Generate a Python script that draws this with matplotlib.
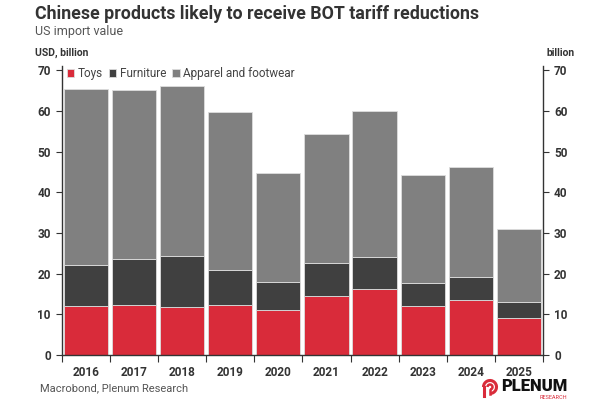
import numpy as np
import matplotlib.pyplot as plt
from matplotlib.patches import Arc
from matplotlib.lines import Line2D

plt.rcParams['font.family'] = ['Roboto', 'DejaVu Sans']

# data (USD billion)
years = ['2016', '2017', '2018', '2019', '2020', '2021', '2022', '2023', '2024', '2025']
toys = [12.0, 12.2, 11.9, 12.2, 11.0, 14.5, 16.2, 12.1, 13.5, 9.1]
furniture = [10.2, 11.3, 12.5, 8.8, 6.9, 8.1, 7.9, 5.7, 5.7, 4.0]
apparel = [43.1, 41.6, 41.7, 38.6, 26.9, 31.7, 35.9, 26.4, 27.1, 17.8]

RED = '#d92b3a'
DARK = '#404040'
GRAY = '#808080'
TXT = '#333333'

W, H = 600, 403
fig = plt.figure(figsize=(W / 100, H / 100), dpi=100)
ax = fig.add_axes([0.103, 0.119, 0.802, 0.717])

x = np.arange(len(years))
w = 0.92
edge = dict(edgecolor='#dddddd', linewidth=0.6)
ax.bar(x, toys, w, color=RED, label='Toys', **edge)
ax.bar(x, furniture, w, bottom=toys, color=DARK, label='Furniture', **edge)
bottom2 = np.array(toys) + np.array(furniture)
ax.bar(x, apparel, w, bottom=bottom2, color=GRAY, label='Apparel and footwear', **edge)

ax.set_xlim(-0.5, len(years) - 0.5)
ax.set_ylim(0, 71)
ax.set_yticks(range(0, 71, 10))

ax.set_xticks(x)
ax.set_xticklabels(years, fontsize=8.5, fontweight='bold', color=TXT)
ax.set_xticks(np.arange(-0.5, len(years), 1), minor=True)
ax.tick_params(axis='x', which='major', length=0, pad=8)
ax.tick_params(axis='x', which='minor', length=5, width=0.8, color=TXT)

ax.tick_params(axis='y', which='major', length=4, width=0.8, color=TXT,
               labelsize=8.5, labelcolor=TXT, left=True, right=True,
               labelleft=True, labelright=True, pad=4)
for t in ax.yaxis.get_major_ticks():
    t.label1.set_fontweight('bold')
    t.label2.set_fontweight('bold')

ax.spines['top'].set_visible(False)
for s in ['left', 'right', 'bottom']:
    ax.spines[s].set_color(TXT)
    ax.spines[s].set_linewidth(1.0)

leg = ax.legend(loc='upper left', ncol=3, frameon=False, fontsize=8.5,
                handlelength=0.65, handleheight=0.65, handletextpad=0.3,
                columnspacing=0.5, borderaxespad=0.0, bbox_to_anchor=(0.0, 1.012))
for t in leg.get_texts():
    t.set_color('#444444')

fig.text(0.058, 0.965, 'Chinese products likely to receive BOT tariff reductions',
         fontsize=12.8, fontweight='bold', color=TXT, va='center')
fig.text(0.058, 0.921, 'US import value', fontsize=9, color='#555555', va='center')
fig.text(0.058, 0.868, 'USD, billion', fontsize=7.5, fontweight='bold', color=TXT, va='center')
fig.text(0.935, 0.868, 'billion', fontsize=7.5, fontweight='bold', color=TXT,
         va='center', ha='center')
fig.text(0.067, 0.037, 'Macrobond, Plenum Research', fontsize=8, color='#555555', va='center')

# logo: outlined red mark drawn in figure pixels (y measured from top)
def px(xp, yp):
    return xp / W, 1 - yp / H

cx, cy = px(490, 387)
fig.patches.append(Arc((cx, cy), 13 / W, 13 / H, theta1=-90, theta2=180,
                       transform=fig.transFigure, color=RED, lw=2.2))
fig.patches.append(Arc((cx, cy), 5 / W, 5 / H, theta1=-90, theta2=180,
                       transform=fig.transFigure, color=RED, lw=1.8))
x0, y0 = px(483.5, 387)
x1, y1 = px(483.5, 396)
fig.lines.append(Line2D([x0, x1], [y0, y1], transform=fig.transFigure, color=RED, lw=2.2))
x2, y2 = px(490, 389.5)
x3, y3 = px(490, 393.5)
fig.lines.append(Line2D([x2, x3], [y2, y3], transform=fig.transFigure, color=RED, lw=1.8))

fig.text(0.836, 0.042, 'PLENUM', fontsize=12, fontweight='black', color='#111111',
         va='center')
fig.text(0.945, 0.014, 'RESEARCH', fontsize=4, color=RED, va='center', ha='right')

fig.savefig('out.png', dpi=100)
